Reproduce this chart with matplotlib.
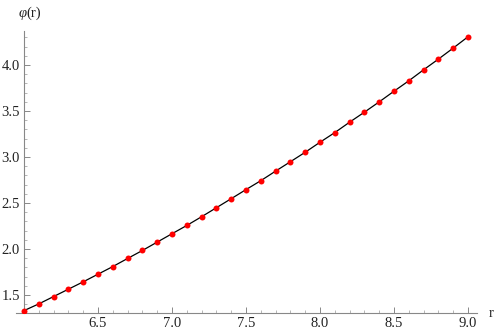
import matplotlib
matplotlib.use("Agg")
import matplotlib.pyplot as plt
from matplotlib.ticker import MultipleLocator, FixedLocator

r = [6.0, 6.1, 6.2, 6.3, 6.4, 6.5, 6.6, 6.7, 6.8, 6.9, 7.0, 7.1, 7.2, 7.3, 7.4, 7.5,
     7.6, 7.7, 7.8, 7.9, 8.0, 8.1, 8.2, 8.3, 8.4, 8.5, 8.6, 8.7, 8.8, 8.9, 9.0]
phi = [1.329, 1.402, 1.482, 1.562, 1.642, 1.725, 1.808, 1.896, 1.983, 2.074, 2.165,
       2.255, 2.350, 2.448, 2.546, 2.645, 2.742, 2.846, 2.948, 3.051, 3.160, 3.265,
       3.378, 3.487, 3.599, 3.715, 3.828, 3.948, 4.064, 4.184, 4.307]
x_ticks = [6.5, 7.0, 7.5, 8.0, 8.5, 9.0]
y_ticks = [1.5, 2.0, 2.5, 3.0, 3.5, 4.0]

plt.rcParams['font.family'] = ['Liberation Serif', 'DejaVu Serif']

fig = plt.figure(figsize=(4.98, 3.36), dpi=100)
ax = fig.add_axes([0.0315, 0.0676, 0.9257, 0.8401])

ax.plot(r, phi, color='black', lw=0.9, zorder=2)
ax.plot(r, phi, 'o', color='#ff0000', ms=4.3, mec='none', zorder=3)

ax.set_xlim(5.944, 9.059)
ax.set_ylim(1.30, 4.37)

for s in ['top', 'right']:
    ax.spines[s].set_visible(False)
ax.spines['left'].set_position(('data', 6.0))
for s in ['left', 'bottom']:
    ax.spines[s].set_color('#888888')
    ax.spines[s].set_linewidth(0.8)

ax.xaxis.set_major_locator(FixedLocator(x_ticks))
ax.yaxis.set_major_locator(FixedLocator(y_ticks))
ax.xaxis.set_minor_locator(MultipleLocator(0.1))
ax.yaxis.set_minor_locator(MultipleLocator(0.1))
ax.set_xticklabels([f"{v:.1f}" for v in x_ticks])
ax.set_yticklabels([f"{v:.1f}" for v in y_ticks])
ax.tick_params(which='major', direction='in', length=4, width=0.7, color='#888888',
               labelsize=10.5, labelcolor='#222222', pad=3)
ax.tick_params(which='minor', direction='in', length=2.3, width=0.6, color='#aaaaaa')

ax.text(6.015, 4.56, 'φ', ha='right', va='center', fontsize=10.5, color='#222222',
        style='italic', clip_on=False)
ax.text(6.015, 4.56, '(r)', ha='left', va='center', fontsize=10.5, color='#222222',
        clip_on=False)
ax.text(9.16, 1.30, 'r', ha='center', va='center', fontsize=10.5, color='#222222',
        clip_on=False)

fig.savefig('out.png', dpi=100)
